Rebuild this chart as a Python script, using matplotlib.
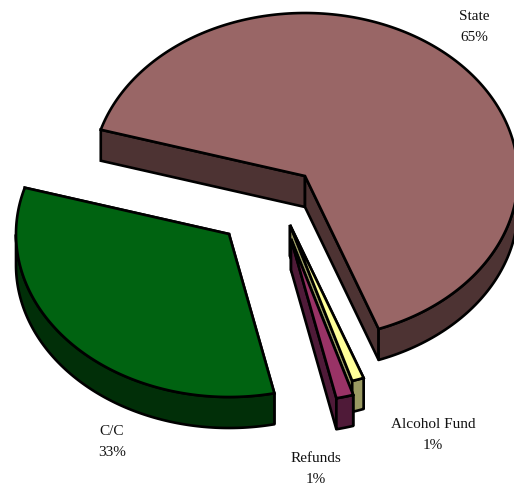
import matplotlib
matplotlib.use('Agg')
import matplotlib.pyplot as plt
from matplotlib.patches import Polygon
import numpy as np

labels = ['State', 'Alcohol Fund', 'Refunds', 'C/C']
shares = [64.8, 0.9, 1.3, 33.0]
shown = ['65%', '1%', '1%', '33%']
top_colors = ['#996666', '#FFFF99', '#993366', '#006311']
side_colors = ['#4D3333', '#9A9A62', '#4F1A38', '#012F08']
# how far each slice is pulled out of the pie, in pixels
pull = [(24, -20), (9, 29), (10, 43), (-52, 38)]
label_pos = [(474, 27), (433, 435), (316, 469), (112, 442)]

cx, cy = 281, 197
rx, ry = 213, 163
depth = 31
start = 163.5


def arc(x0, y0, a1, a2, n=200):
    t = np.radians(np.linspace(a1, a2, n))
    return np.column_stack([x0 + rx * np.cos(t), y0 - ry * np.sin(t)])


fig = plt.figure(figsize=(5.14, 4.85), dpi=100)
ax = fig.add_axes([0, 0, 1, 1])
ax.set_xlim(0, 514)
ax.set_ylim(485, 0)
ax.axis('off')

down = np.array([0, depth])
lw = 1.9
angle = start
for i, share in enumerate(shares):
    a1 = angle
    a2 = angle - share * 3.6
    angle = a2
    x0 = cx + pull[i][0]
    y0 = cy + pull[i][1]
    rim = arc(x0, y0, a1, a2)
    centre = np.array([x0, y0])

    # cut faces first, the top covers whatever is hidden
    for end in (rim[0], rim[-1]):
        quad = [centre, end, end + down, centre + down]
        ax.add_patch(Polygon(quad, fc=side_colors[i], ec='black', lw=lw, zorder=i * 3 + 1))

    # outer wall, only the near half shows
    low = rim[np.sin(np.radians(np.linspace(a1, a2, len(rim)))) <= 0]
    if len(low) > 1:
        wall = np.vstack([low, low[::-1] + down])
        ax.add_patch(Polygon(wall, fc=side_colors[i], ec='black', lw=lw, joinstyle='round', zorder=i * 3 + 2))

    top = np.vstack([centre, rim])
    ax.add_patch(Polygon(top, fc=top_colors[i], ec='black', lw=lw, zorder=i * 3 + 3))

for name, pct, (x, y) in zip(labels, shown, label_pos):
    ax.text(x, y, name + '\n' + pct, ha='center', va='center', ma='center',
            family='Liberation Serif', fontsize=11, color='#111111', linespacing=1.85, zorder=30)

fig.savefig('out.png', dpi=100, facecolor='white')
